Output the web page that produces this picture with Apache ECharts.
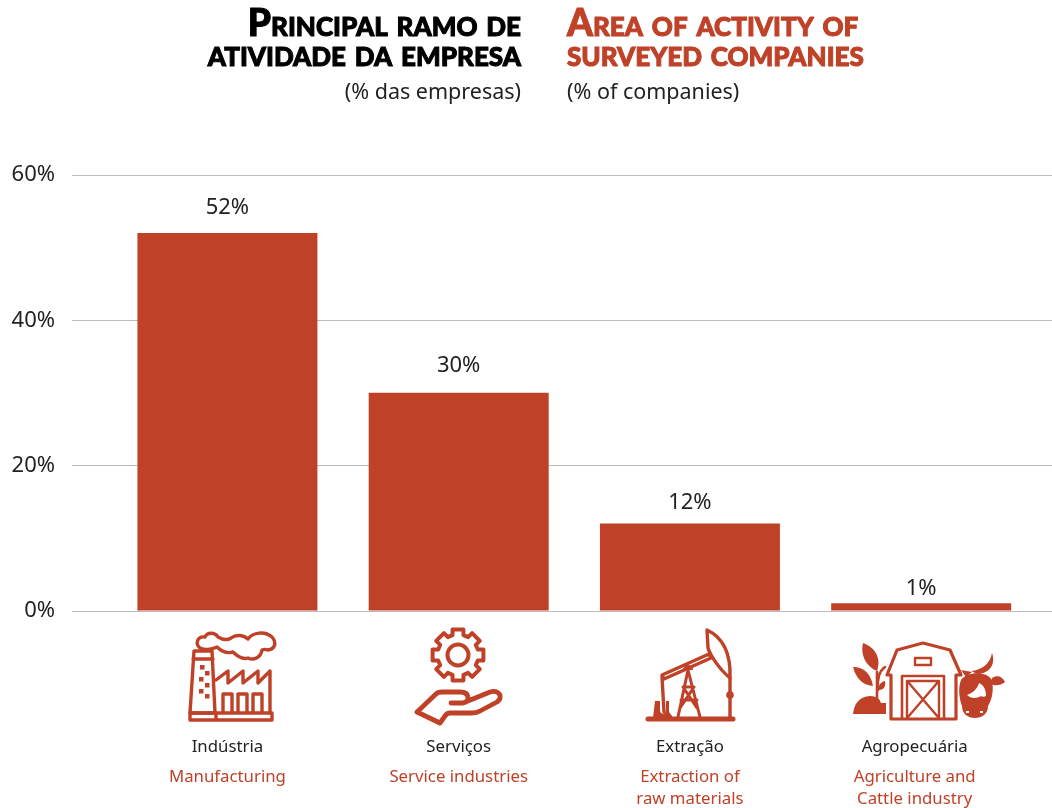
<!DOCTYPE html>
<html><head><meta charset="utf-8">
<style>html,body{margin:0;padding:0;background:#fff}#c{width:1052px;height:808px}</style>
<script src="https://cdn.jsdelivr.net/npm/echarts@6/dist/echarts.min.js"></script>
</head><body><div id="c"></div>
<script>
const categoriesPt = ['Indústria','Serviços','Extração','Agropecuária'];
const categoriesEn = ['Manufacturing','Service industries','Extraction of\nraw materials','Agriculture and\nCattle industry'];
const values = [52,30,12,1];
const yTicks = [0,20,40,60];
const RED = '#bf4127', INK = '#222222';
const BODY = '"Noto Sans", sans-serif';
const DISPLAY = 'Lato, sans-serif';
const labelGap = [14,16,10,4];

const chart = echarts.init(document.getElementById('c'), null, {renderer:'canvas'});

function L(d,w){ return {type:'path', shape:{pathData:d}, style:{fill:'none',stroke:RED,lineWidth:w||3,lineJoin:'round',lineCap:'round'}}; }
function F(d,c){ return {type:'path', shape:{pathData:d}, style:{fill:c||RED}}; }
function gearPath(cx,cy,ro,ri,n){
  let d='';
  for(let i=0;i<n;i++){
    const a=i*2*Math.PI/n-Math.PI/2, h=0.21, s=0.27;
    const pts=[[ri,a-s],[ro,a-h],[ro,a+h],[ri,a+s]];
    pts.forEach((p,j)=>{ d+=((i===0&&j===0)?'M':'L')+(cx+p[0]*Math.cos(p[1])).toFixed(1)+' '+(cy+p[0]*Math.sin(p[1])).toFixed(1)+' '; });
  }
  return d+'Z';
}
const icons = [
  // factory
  L('M194 651H212L215 713H190Z M193 659H213',3.4),
  F('M200 665h4.5v4.5h-4.5z M205 671h4.5v4.5h-4.5z M199 677h4.5v4.5h-4.5z M205 683h4.5v4.5h-4.5z M199 689h4.5v4.5h-4.5z M205 694h4.5v4.5h-4.5z'),
  L('M216 680L228 671V683L243 671V683L258 671V683L270 671V713',3.4),
  L('M223 712V694H232V712 M238 712V694H247V712 M253 712V694H262V712',3.4),
  L('M190 713H272V720H190Z M216 713V720',3.4),
  L('M200 648C195 644 197 636 205 637C207 632 215 632 218 637C223 640 228 640 231 638C236 634 244 635 248 639C253 632 265 631 272 637C277 643 275 649 268 650C265 649 264 649 262 650C261 657 254 661 248 658C242 660 236 655 233 652C226 654 220 650 217 647C211 650 204 650 200 648Z',3.4),
  // gear and hand
  L(gearPath(458,655,26,20.5,8),4),
  {type:'circle',shape:{cx:458,cy:655,r:10.5},style:{fill:'none',stroke:RED,lineWidth:4}},
  L('M417 712L436 694Q438 692 442 692H460Q468 692 468 698Q468 703 460 703H451 M463 703L490 692Q497 690 500 695Q501 699 497 702L480 711Q477 713 472 713H450Q447 713 445 716L440 723L417 712',4.8),
  // pump jack
  L('M648 719H733',5),
  L('M730 678V719',3.4),
  {type:'circle',shape:{cx:730,cy:695,r:3.8},style:{fill:RED}},
  L('M662 675L709 654L711 658L664 679Z',3.4),
  L('M707 630C722 637 731 652 730 678C720 670 710 655 708 648Z',3.4),
  L('M662 677L664 712',3.4),
  L('M688 670L678 717 M688 670L700 717 M683 687H694 M681 700H697 M683 687L697 708 M694 687L680 708',3),
  F('M683 670a5 5 0 0 1 10 0z'),
  F('M655 701h5v9c0 5 6 5 6 0v-9h3v10c0 2 2 3 3 5v2h-19z'),
  // barn
  L('M891 719V675H887L897 650L923 643L950 650L961 675H956V719Z',3.2),
  L('M902 719V676H944V719',2.6),
  L('M907 718V681H939V718 M908 682L938 717 M938 682L908 717',2.4),
  L('M915 658H931V665H915Z',2.4),
  // plant
  F('M853 714Q855 697 870 696Q879 696 881 703H886V714Z'),
  L('M877 703V672',2.6),
  F('M863 643C877 648 881 660 877 671C867 667 860 656 863 643Z'),
  F('M853 667C864 667 871 674 873 686C862 685 856 678 853 667Z'),
  L('M885 667C878 672 877 680 878 690',2.6),
  F('M885 681C880 682 878 686 879 690C884 690 886 686 885 681Z'),
  // cow
  F('M961 680C966 672 986 670 992 680C994 690 992 700 988 706C988 714 982 718 975 718C968 718 962 714 962 706C959 698 958 688 961 680Z'),
  F('M992 653C996 664 990 673 978 674C974 673 972 671 971 671C982 670 990 664 992 653Z'),
  F('M961 670L972 672L966 677Z'),
  F('M992 678C997 675 1002 676 1005 682C1000 686 995 686 991 684Z'),
  F('M979 683C984 685 986 690 986 696C983 698 981 695 979 697C975 699 970 698 967 695C972 693 977 690 979 683Z','#ffffff'),
  F('M966 711h3v2h-3z M980 711h3v2h-3z','#ffffff'),
];

const barData = values.map((v,i)=>({value:v,label:{distance:labelGap[i]}}));

chart.setOption({
  animation:false,
  backgroundColor:'#fff',
  title:[
    {text:'Principal ramo de\natividade da empresa',left:516,top:4,textAlign:'right',
     textStyle:{fontFamily:DISPLAY,fontStyle:'small-caps',fontWeight:900,fontSize:37,lineHeight:30,color:'#000',textBorderColor:'#000',textBorderWidth:1}},
    {text:'Area of activity of\nsurveyed companies',left:562,top:4,textAlign:'left',
     textStyle:{fontFamily:DISPLAY,fontStyle:'small-caps',fontWeight:900,fontSize:37,lineHeight:30,color:RED,textBorderColor:RED,textBorderWidth:1}},
    {text:'(% das empresas)',left:516,top:77,textAlign:'right',textStyle:{fontFamily:BODY,fontWeight:400,fontSize:21.5,color:INK}},
    {text:'(% of companies)',left:562,top:77,textAlign:'left',textStyle:{fontFamily:BODY,fontWeight:400,fontSize:21.5,color:INK}}
  ],
  grid:[
    {left:72,width:980,top:175,height:436},
    {left:111.8,width:925,top:175,height:436}
  ],
  xAxis:[
    {gridIndex:0,type:'value',min:0,max:1,show:false},
    {gridIndex:1,type:'category',data:categoriesPt,
     axisLine:{show:false},axisTick:{show:false},
     axisLabel:{margin:118,interval:0,verticalAlign:'top',
       formatter:(v,i)=>{
         const en=categoriesEn[i].split('\n').map(s=>'{'+(i===3?'enA':'en')+'|'+s+'}').join('\n');
         return '{'+(i===3?'ptA':'pt')+'|'+v+'}\n'+en;
       },
       rich:{
         pt:{fontFamily:BODY,fontSize:16.8,color:INK,lineHeight:38},
         en:{fontFamily:BODY,fontSize:16.8,color:RED,lineHeight:22},
         ptA:{fontFamily:BODY,fontSize:16.8,color:INK,lineHeight:38,padding:[0,13,0,0]},
         enA:{fontFamily:BODY,fontSize:16.8,color:RED,lineHeight:22,padding:[0,13,0,0]}
       }}}
  ],
  yAxis:[
    {gridIndex:0,type:'value',min:0,max:60,interval:20,
     axisLine:{show:false},axisTick:{show:false},
     axisLabel:{margin:17,color:INK,fontFamily:BODY,fontSize:22,padding:[0,0,8,0],formatter:'{value}%'},
     splitLine:{show:true,lineStyle:{color:'#bdbdbd',width:1}}},
    {gridIndex:1,type:'value',min:0,max:60,interval:20,show:false,splitLine:{show:false}}
  ],
  series:[{
    type:'bar',xAxisIndex:1,yAxisIndex:1,data:barData,barWidth:180,
    itemStyle:{color:RED},
    label:{show:true,position:'top',formatter:'{c}%',color:INK,fontFamily:BODY,fontSize:22}
  },{
    type:'custom',coordinateSystem:'none',data:[0],silent:true,clip:false,
    renderItem:()=>({type:'group',children:icons})
  }]
});
</script></body></html>
